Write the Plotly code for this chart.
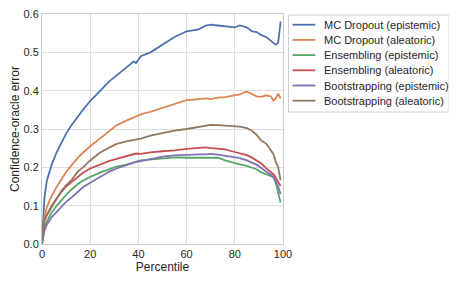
import plotly.graph_objects as go

percentile = [0, 1, 2, 4, 6, 8, 10, 12, 15, 17, 20, 24, 28, 31, 35, 38, 39, 41, 45, 50, 55, 60, 65, 68, 70, 73, 76, 80, 82, 85, 87, 89, 91, 93, 95, 96, 97, 98, 99]

mc_epistemic = [0.0, 0.12, 0.165, 0.207, 0.238, 0.264, 0.288, 0.308, 0.334, 0.35, 0.373, 0.40, 0.425, 0.44, 0.462, 0.476, 0.472, 0.49, 0.50, 0.52, 0.54, 0.555, 0.56, 0.57, 0.572, 0.57, 0.568, 0.565, 0.57, 0.565, 0.555, 0.553, 0.545, 0.54, 0.53, 0.525, 0.52, 0.525, 0.58]
mc_aleatoric = [0.0, 0.07, 0.096, 0.125, 0.148, 0.168, 0.188, 0.203, 0.226, 0.238, 0.255, 0.275, 0.295, 0.31, 0.322, 0.33, 0.334, 0.338, 0.345, 0.355, 0.365, 0.375, 0.378, 0.38, 0.378, 0.382, 0.383, 0.388, 0.39, 0.398, 0.392, 0.385, 0.384, 0.388, 0.385, 0.374, 0.38, 0.392, 0.38]
ens_epistemic = [0.0, 0.045, 0.058, 0.082, 0.099, 0.115, 0.128, 0.141, 0.157, 0.165, 0.175, 0.186, 0.196, 0.202, 0.207, 0.211, 0.214, 0.218, 0.22, 0.224, 0.226, 0.225, 0.225, 0.224, 0.225, 0.225, 0.218, 0.21, 0.208, 0.204, 0.2, 0.195, 0.187, 0.183, 0.178, 0.175, 0.16, 0.135, 0.108]
ens_aleatoric = [0.0, 0.06, 0.075, 0.098, 0.118, 0.135, 0.15, 0.16, 0.177, 0.186, 0.197, 0.207, 0.217, 0.222, 0.23, 0.236, 0.236, 0.235, 0.239, 0.242, 0.244, 0.248, 0.251, 0.252, 0.25, 0.248, 0.247, 0.24, 0.237, 0.232, 0.226, 0.218, 0.21, 0.198, 0.188, 0.182, 0.173, 0.163, 0.151]
boot_epistemic = [0.0, 0.035, 0.05, 0.07, 0.083, 0.097, 0.11, 0.12, 0.138, 0.148, 0.16, 0.175, 0.189, 0.197, 0.206, 0.212, 0.214, 0.216, 0.222, 0.228, 0.231, 0.233, 0.234, 0.234, 0.235, 0.233, 0.23, 0.226, 0.224, 0.218, 0.212, 0.207, 0.198, 0.19, 0.18, 0.174, 0.164, 0.15, 0.13]
boot_aleatoric = [0.0, 0.06, 0.075, 0.10, 0.117, 0.138, 0.153, 0.165, 0.19, 0.20, 0.218, 0.238, 0.252, 0.261, 0.268, 0.272, 0.273, 0.275, 0.283, 0.29, 0.296, 0.30, 0.306, 0.31, 0.311, 0.31, 0.309, 0.308, 0.306, 0.302, 0.296, 0.285, 0.27, 0.262, 0.245, 0.235, 0.215, 0.2, 0.166]

series_names = ["MC Dropout (epistemic)", "MC Dropout (aleatoric)", "Ensembling (epistemic)",
                "Ensembling (aleatoric)", "Bootstrapping (epistemic)", "Bootstrapping (aleatoric)"]
series_values = [mc_epistemic, mc_aleatoric, ens_epistemic, ens_aleatoric, boot_epistemic, boot_aleatoric]
colors = ["#4C72B0", "#DD8452", "#55A868", "#C44E52", "#8172B3", "#937860"]

x_ticks = [0, 20, 40, 60, 80, 100]
y_ticks = [0.0, 0.1, 0.2, 0.3, 0.4, 0.5, 0.6]

# page body adds an 8px offset; figure sized to the visible area
OFF = 8
W, H = 449, 273
ML, MT = 34, 6
PW, PH = 241.5, 230
MR = W - ML - PW
MB = H - MT - PH


def px_x(px):
    return (px - OFF - ML) / PW


def px_y(py):
    return (H - MB - (py - OFF)) / PH


fig = go.Figure()
for name, vals, c in zip(series_names, series_values, colors):
    fig.add_trace(go.Scatter(x=percentile, y=vals, mode="lines", name=name,
                             line=dict(color=c, width=1.8), showlegend=False))

# legend drawn as box + samples + text
shapes = [dict(type="rect", xref="paper", yref="paper",
               x0=px_x(289), x1=px_x(450), y0=px_y(15), y1=px_y(112),
               line=dict(color="#d0d0d0", width=1), fillcolor="white", layer="above")]
annotations = []
row0, step = 24.7, 15.2
for i, (name, c) in enumerate(zip(series_names, colors)):
    yy = row0 + i * step
    shapes.append(dict(type="line", xref="paper", yref="paper",
                       x0=px_x(293), x1=px_x(316), y0=px_y(yy), y1=px_y(yy),
                       line=dict(color=c, width=1.8), layer="above"))
    annotations.append(dict(xref="paper", yref="paper", x=px_x(323), y=px_y(yy),
                            xanchor="left", yanchor="middle", text=name, showarrow=False,
                            font=dict(size=11, color="#262626")))

font_family = "Liberation Sans, Arial, sans-serif"
fig.update_layout(
    width=W, height=H,
    margin=dict(l=ML, r=MR, t=MT, b=MB, autoexpand=False),
    paper_bgcolor="white", plot_bgcolor="white",
    font=dict(family=font_family, size=11, color="#262626"),
    shapes=shapes, annotations=annotations,
    showlegend=False,
)
fig.update_xaxes(range=[0, 100], tickvals=x_ticks, showgrid=True, gridcolor="#dddddd",
                 showline=True, linecolor="#cccccc", mirror=True, zeroline=False,
                 ticks="", automargin=False, ticklabeloverflow="allow",
                 title=dict(text="Percentile", font=dict(size=12), standoff=3),
                 tickfont=dict(size=11))
fig.update_yaxes(range=[0, 0.6], tickvals=y_ticks, tickformat=".1f", showgrid=True,
                 gridcolor="#dddddd", showline=True, linecolor="#cccccc", mirror=True,
                 zeroline=False, ticks="", automargin=False, ticklabeloverflow="allow",
                 title=dict(text="Confidence-oracle error", font=dict(size=12), standoff=4),
                 tickfont=dict(size=11))

fig.write_html("out.html")
